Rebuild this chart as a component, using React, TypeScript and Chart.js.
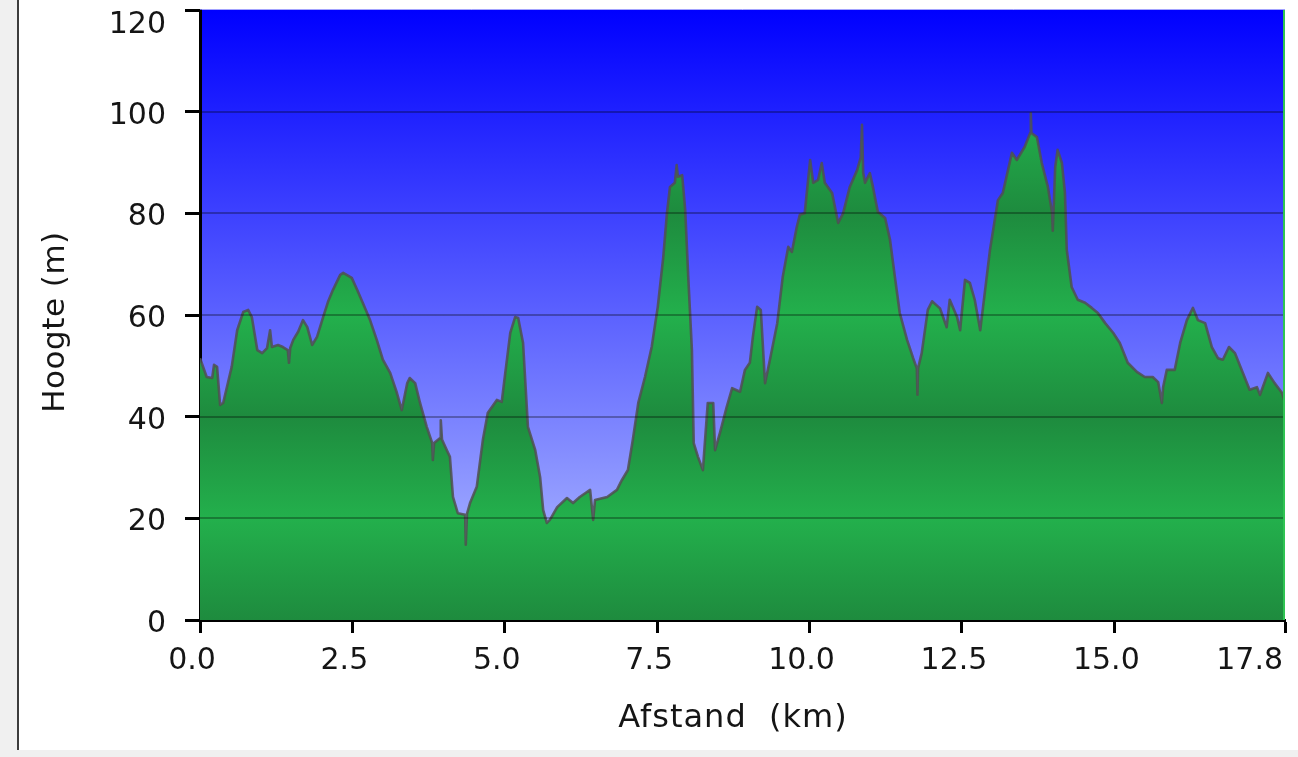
import React, { useEffect, useRef } from "react";
import { Chart, registerables } from "chart.js";

Chart.register(...registerables);

// Distance along the route (km)
const distanceKm = [
  0.0, 0.11, 0.2, 0.23, 0.28, 0.33, 0.38, 0.52, 0.61, 0.71, 0.79, 0.85, 0.94, 1.02, 1.1, 1.15, 1.18, 1.28, 1.36, 1.44,
  1.46, 1.48, 1.53, 1.61, 1.69, 1.76, 1.84, 1.92, 2.02, 2.1, 2.18, 2.3, 2.35, 2.49, 2.58, 2.67, 2.79, 2.9, 3.0, 3.12,
  3.23, 3.31, 3.4, 3.44, 3.53, 3.61, 3.72, 3.81, 3.82, 3.84, 3.94, 3.95, 3.97, 4.05, 4.1, 4.15, 4.23, 4.35, 4.36, 4.38,
  4.43, 4.54, 4.64, 4.72, 4.87, 4.95, 5.0, 5.09, 5.17, 5.22, 5.3, 5.38, 5.5, 5.58, 5.63, 5.69, 5.74, 5.86, 6.02, 6.12,
  6.23, 6.4, 6.45, 6.48, 6.68, 6.84, 6.92, 7.02, 7.1, 7.19, 7.3, 7.41, 7.51, 7.6, 7.66, 7.71, 7.79, 7.82, 7.84, 7.91,
  7.96, 8.01, 8.07, 8.1, 8.17, 8.25, 8.33, 8.42, 8.45, 8.53, 8.64, 8.73, 8.86, 8.94, 9.02, 9.07, 9.14, 9.2, 9.27, 9.35,
  9.47, 9.56, 9.65, 9.71, 9.79, 9.84, 9.92, 10.01, 10.06, 10.14, 10.2, 10.25, 10.37, 10.47, 10.55, 10.66, 10.78, 10.84, 10.86, 10.88,
  10.91, 10.99, 11.04, 11.12, 11.24, 11.32, 11.4, 11.48, 11.6, 11.7, 11.76, 11.77, 11.78, 11.84, 11.94, 12.01, 12.14, 12.25, 12.3, 12.42,
  12.47, 12.55, 12.63, 12.71, 12.8, 12.88, 12.96, 13.09, 13.17, 13.32, 13.4, 13.53, 13.62, 13.63, 13.64, 13.73, 13.81, 13.91, 13.98, 13.99,
  14.03, 14.07, 14.14, 14.19, 14.22, 14.3, 14.4, 14.52, 14.63, 14.73, 14.85, 14.98, 15.09, 15.22, 15.37, 15.5, 15.63, 15.72, 15.78, 15.8,
  15.86, 15.99, 16.08, 16.19, 16.29, 16.37, 16.49, 16.6, 16.7, 16.78, 16.88, 16.98, 17.09, 17.22, 17.34, 17.39, 17.52, 17.63, 17.75, 17.8,
];

// Elevation (m)
const elevationM = [
  51.5, 47.8, 47.6, 50.2, 49.8, 42.3, 42.7, 49.8, 57.0, 60.6, 61.0, 59.6, 53.1, 52.5, 53.5, 57.0, 53.7, 54.1, 53.7, 53.1,
  50.6, 53.5, 55.1, 56.7, 59.0, 57.6, 54.1, 55.7, 59.6, 62.6, 64.9, 67.9, 68.3, 67.3, 64.9, 62.4, 59.0, 55.1, 51.2, 48.6,
  44.7, 41.3, 46.6, 47.6, 46.6, 42.7, 38.0, 34.8, 31.5, 34.8, 35.8, 39.3, 35.5, 33.4, 32.1, 24.2, 21.0, 20.7, 14.8, 20.9,
  23.0, 26.2, 35.4, 40.7, 43.3, 42.9, 47.8, 56.5, 59.6, 59.4, 54.5, 38.0, 33.4, 28.1, 21.6, 19.1, 19.7, 22.2, 24.0, 23.0,
  24.2, 25.6, 19.7, 23.6, 24.2, 25.6, 27.5, 29.5, 35.4, 42.7, 47.8, 53.7, 61.6, 71.4, 80.0, 85.2, 86.0, 89.5, 87.2, 87.5,
  80.7, 67.5, 53.1, 34.8, 32.1, 29.5, 42.7, 42.7, 33.4, 36.8, 41.9, 45.6, 44.9, 49.2, 50.6, 55.7, 61.6, 61.0, 46.6, 51.2,
  58.4, 67.5, 73.4, 72.4, 77.3, 79.7, 80.0, 90.5, 86.0, 86.6, 89.9, 86.0, 84.0, 78.1, 80.0, 85.2, 88.5, 91.0, 97.4, 88.0,
  86.0, 87.9, 85.2, 80.3, 79.1, 74.8, 67.5, 60.4, 55.1, 51.5, 49.5, 44.3, 49.5, 52.5, 61.0, 62.7, 61.3, 57.6, 63.0, 59.6,
  57.0, 66.9, 66.3, 63.0, 57.0, 64.9, 72.8, 82.6, 84.0, 91.9, 90.5, 93.1, 95.8, 99.7, 95.8, 95.0, 89.9, 85.2, 80.0, 76.6,
  89.1, 92.5, 89.9, 84.0, 72.8, 65.5, 63.0, 62.4, 61.4, 60.4, 58.4, 56.5, 54.5, 50.6, 48.8, 47.8, 47.8, 46.8, 42.7, 45.8,
  49.2, 49.2, 54.5, 59.0, 61.4, 59.0, 58.4, 53.7, 51.5, 51.2, 53.7, 52.5, 49.2, 45.3, 45.8, 44.3, 48.6, 46.6, 44.7, 42.7,
];

const xTickValues = [0, 2.5, 5, 7.5, 10, 12.5, 15, 17.8];
const yTickValues = [0, 20, 40, 60, 80, 100, 120];
const xTitle = "Afstand  (km)";
const yTitle = "Hoogte (m)";

const FONT = "'DejaVu Sans', Verdana, sans-serif";
const TEXT_COLOR = "#151515";

function greenGradient(chart: any) {
  const a = chart.chartArea;
  if (!a) return "#22b14c";
  const g = chart.ctx.createLinearGradient(0, a.top, 0, a.bottom);
  const B = "#23b04c";
  const D = "#1e8b3e";
  g.addColorStop(0, D);
  g.addColorStop(1 / 6, B);
  g.addColorStop(2 / 6, D);
  g.addColorStop(3 / 6, B);
  g.addColorStop(4 / 6, D);
  g.addColorStop(5 / 6, B);
  g.addColorStop(1, D);
  return g;
}

export default function App() {
  const ref = useRef<HTMLCanvasElement>(null);

  useEffect(() => {
    const canvas = ref.current;
    if (!canvas) return;

    const plotBg = {
      id: "plotBg",
      beforeDraw(chart: any) {
        const { ctx, chartArea: a } = chart;
        const g = ctx.createLinearGradient(0, a.top, 0, a.bottom);
        g.addColorStop(0, "#0000ff");
        g.addColorStop(1, "#b7c3ff");
        ctx.save();
        ctx.fillStyle = g;
        ctx.fillRect(a.left, a.top, a.right - a.left, a.bottom - a.top);
        ctx.restore();
      },
    };

    const overlay = {
      id: "overlay",
      afterDatasetsDraw(chart: any) {
        const { ctx, chartArea: a } = chart;
        const ys = chart.scales.y;
        ctx.save();
        ctx.strokeStyle = "rgba(0,0,0,0.3)";
        ctx.lineWidth = 2;
        yTickValues.forEach((v) => {
          if (v <= 0 || v >= 120) return;
          const y = Math.round(ys.getPixelForValue(v));
          ctx.beginPath();
          ctx.moveTo(a.left, y);
          ctx.lineTo(a.right, y);
          ctx.stroke();
        });
        // top highlight
        ctx.strokeStyle = "rgba(140,140,255,0.8)";
        ctx.lineWidth = 1;
        ctx.beginPath();
        ctx.moveTo(a.left, a.top - 0.5);
        ctx.lineTo(a.right, a.top - 0.5);
        ctx.stroke();
        // right green edge
        ctx.strokeStyle = "#2fc452";
        ctx.lineWidth = 2;
        ctx.beginPath();
        ctx.moveTo(a.right - 1, a.top);
        ctx.lineTo(a.right - 1, a.bottom);
        ctx.stroke();
        ctx.restore();
      },
    };

    const labels = {
      id: "labels",
      afterDraw(chart: any) {
        const { ctx, chartArea: a } = chart;
        const xs = chart.scales.x;
        const ys = chart.scales.y;
        ctx.save();
        ctx.fillStyle = TEXT_COLOR;
        ctx.textBaseline = "alphabetic";
        const tickSize = 30;
        ctx.font = `${tickSize}px ${FONT}`;
        const half = tickSize * 0.3645;
        ctx.textAlign = "right";
        yTickValues.forEach((v) => {
          let y = ys.getPixelForValue(v);
          y = Math.max(y, a.top + 11);
          ctx.fillText(String(v), a.left - 34, y + half + 1);
        });
        xTickValues.forEach((v, i) => {
          const x = xs.getPixelForValue(v);
          const last = i === xTickValues.length - 1;
          ctx.textAlign = last ? "right" : "center";
          ctx.fillText(v.toFixed(1), last ? x - 2 : x - 8, a.bottom + 49);
        });
        // x title
        ctx.font = `32px ${FONT}`;
        (ctx as any).letterSpacing = "1px";
        ctx.textAlign = "center";
        ctx.fillText(xTitle, 733, 727);
        // y title
        ctx.font = `31px ${FONT}`;
        (ctx as any).letterSpacing = "0.5px";
        ctx.translate(64, 322);
        ctx.rotate(-Math.PI / 2);
        ctx.textAlign = "center";
        ctx.fillText(yTitle, 0, 0);
        ctx.restore();
      },
    };

    const chart = new Chart(canvas, {
      type: "line",
      data: {
        datasets: [
          {
            data: distanceKm.map((d, i) => ({ x: d, y: elevationM[i] })),
            borderColor: "rgba(80,80,80,0.85)",
            borderWidth: 2.6,
            borderJoinStyle: "round",
            pointRadius: 0,
            tension: 0,
            fill: "origin",
            backgroundColor: (c: any) => greenGradient(c.chart),
          },
        ],
      },
      options: {
        animation: false,
        responsive: false,
        layout: { padding: { top: 10, right: 13, left: 0, bottom: 0 } },
        plugins: { legend: { display: false }, tooltip: { enabled: false } },
        scales: {
          x: {
            type: "linear",
            min: 0,
            max: 17.8,
            z: 1,
            afterBuildTicks: (s: any) => {
              s.ticks = xTickValues.map((v) => ({ value: v }));
            },
            afterFit: (s: any) => {
              s.height = 137;
              s.paddingLeft = 0;
              s.paddingRight = 0;
            },
            ticks: { display: false },
            grid: { drawOnChartArea: false, drawTicks: true, tickLength: 13, tickWidth: 3, tickColor: "#000" },
            border: { display: true, color: "#000", width: 3 },
          },
          y: {
            type: "linear",
            min: 0,
            max: 120,
            z: 1,
            afterBuildTicks: (s: any) => {
              s.ticks = yTickValues.map((v) => ({ value: v }));
            },
            afterFit: (s: any) => {
              s.width = 200;
              s.paddingTop = 0;
              s.paddingBottom = 0;
            },
            ticks: { display: false },
            grid: { drawOnChartArea: false, drawTicks: true, tickLength: 15, tickWidth: 3, tickColor: "#000" },
            border: { display: true, color: "#000", width: 3 },
          },
        },
      },
      plugins: [plotBg, overlay, labels],
    } as any);

    return () => chart.destroy();
  }, []);

  return (
    <div style={{ position: "fixed", left: 0, top: 0, width: 1298, height: 757, background: "#f0f0f0", overflow: "hidden" }}>
      <div
        style={{
          position: "absolute",
          left: 17,
          top: 0,
          width: 1281,
          height: 750,
          background: "#ffffff",
          borderLeft: "2px solid #3c3c3c",
          boxSizing: "border-box",
        }}
      />
      <canvas ref={ref} width={1298} height={757} style={{ position: "absolute", left: 0, top: 0, width: 1298, height: 757 }} />
    </div>
  );
}
